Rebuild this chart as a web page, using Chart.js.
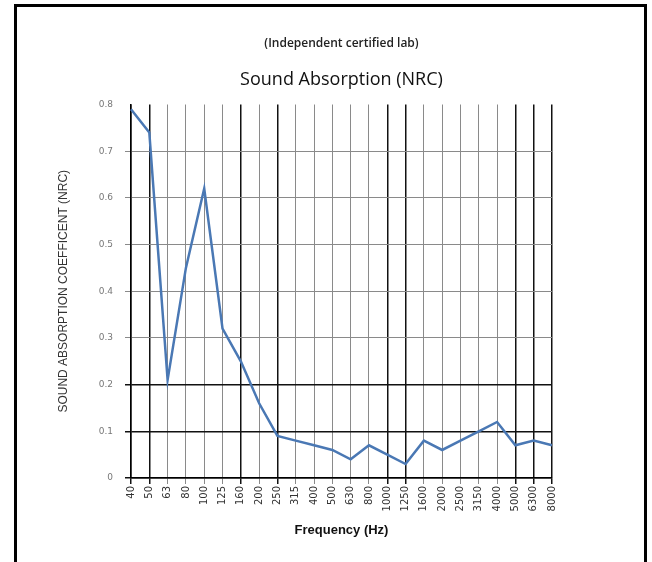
<!DOCTYPE html>
<html>
<head>
<meta charset="utf-8">
<script src="https://cdn.jsdelivr.net/npm/chart.js@4"></script>
<style>
  html, body { margin: 0; padding: 0; background: #fff; }
  #wrap { width: 652px; height: 562px; }
</style>
</head>
<body>
<div id="wrap"><canvas id="myChart" width="652" height="562"></canvas></div>
<script>
const ctx = document.getElementById('myChart');

// frecuencias (Hz) y coeficientes
const frecuencias = ['40', '50', '63', '80', '100', '125', '160', '200', '250', '315', '400', '500',
  '630', '800', '1000', '1250', '1600', '2000', '2500', '3150', '4000', '5000', '6300', '8000'];
const coeficientes = [0.79, 0.74, 0.21, 0.45, 0.62, 0.32, 0.25, 0.16, 0.09, 0.08, 0.07, 0.06,
  0.04, 0.07, 0.05, 0.03, 0.08, 0.06, 0.08, 0.10, 0.12, 0.07, 0.08, 0.07];
const marcasY = [0, 0.1, 0.2, 0.3, 0.4, 0.5, 0.6, 0.7, 0.8];

// lineas de la rejilla que salen mas oscuras en el escaneo
const verticalesOscuras = [0, 1, 6, 8, 14, 15, 21, 22, 23];
const horizontalesOscuras = [0, 1, 2];

/* Marco negro alrededor de la figura */
const marco = {
  id: 'marco',
  beforeDraw(chart) {
    const c = chart.ctx;
    c.save();
    c.fillStyle = '#fff';
    c.fillRect(0, 0, chart.width, chart.height);
    c.strokeStyle = '#000';
    c.lineWidth = 3;
    c.strokeRect(15.5, 5.5, 630, 600);
    c.restore();
  }
};

const myChart = new Chart(ctx, {
  type: 'line',
  data: {
    labels: frecuencias,
    datasets: [{
      label: 'NRC',
      data: coeficientes,
      borderColor: '#4a78b4',
      backgroundColor: '#4a78b4',
      borderWidth: 2.5,
      pointRadius: 0,
      tension: 0
    }]
  },
  options: {
    responsive: false,
    animation: false,
    layout: { padding: { left: 52, right: 100, top: 30, bottom: 20 } },
    plugins: {
      legend: { display: false },
      tooltip: { enabled: false },
      title: {
        display: true,
        fullSize: false,
        text: '(Independent certified lab)',
        color: '#222',
        font: { family: 'Open Sans', size: 12, weight: '600' },
        padding: { top: 6, bottom: 19 }
      },
      subtitle: {
        display: true,
        fullSize: false,
        text: 'Sound Absorption (NRC)',
        color: '#111',
        font: { family: 'Open Sans', size: 18 },
        padding: { top: 0, bottom: 13.5 }
      }
    },
    scales: {
      x: {
        offset: false,
        afterFit(scale) { scale.height = 64; },
        border: { color: '#000', width: 1.5 },
        grid: {
          drawOnChartArea: true,
          tickLength: 6,
          color: c => verticalesOscuras.includes(c.index) ? '#111' : '#8a8a8a',
          lineWidth: c => verticalesOscuras.includes(c.index) ? 1.5 : 1
        },
        ticks: {
          autoSkip: false,
          minRotation: 90,
          maxRotation: 90,
          padding: 2,
          color: '#333',
          font: { family: 'DejaVu Sans', size: 10 }
        },
        title: {
          display: true,
          text: 'Frequency (Hz)',
          color: '#111',
          font: { family: 'Liberation Sans', size: 13, weight: 'bold' },
          padding: { top: 4, bottom: 4 }
        }
      },
      y: {
        min: 0,
        max: 0.8,
        afterFit(scale) { scale.width = 79; },
        afterBuildTicks(scale) { scale.ticks = marcasY.map(v => ({ value: v })); },
        border: { color: '#000', width: 1.5 },
        grid: {
          tickLength: 6,
          color: c => c.tick && c.tick.value >= 0.8 ? 'rgba(0,0,0,0)' :
            (horizontalesOscuras.includes(c.index) ? '#111' : '#8a8a8a'),
          lineWidth: c => horizontalesOscuras.includes(c.index) ? 1.5 : 1
        },
        ticks: {
          padding: 12,
          color: '#777',
          font: { family: 'DejaVu Sans', size: 9 },
          callback: v => String(v)
        },
        title: {
          display: true,
          text: 'SOUND ABSORPTION COEFFICENT (NRC)',
          color: '#333',
          font: { family: 'Liberation Sans', size: 12 },
          padding: { top: 4, bottom: 4 }
        }
      }
    }
  },
  plugins: [marco]
});
</script>
</body>
</html>
